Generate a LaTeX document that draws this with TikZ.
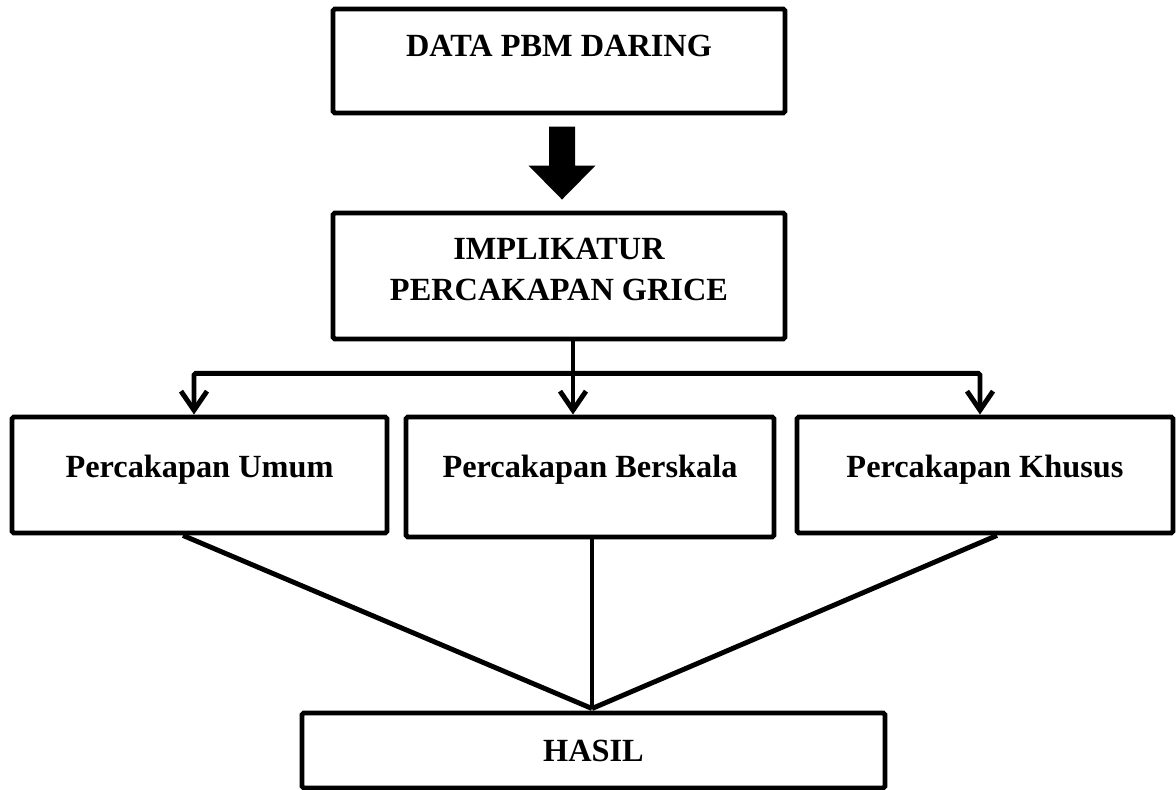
\documentclass[tikz,border=0pt]{standalone}
\usepackage{fontspec}
\setmainfont{Liberation Serif}
\usepackage{tikz}
\usetikzlibrary{arrows.meta, positioning}

\begin{document}
\begin{tikzpicture}[
  font=\fontsize{18.4}{23.3}\selectfont\bfseries,
  box/.style={
    draw=black,
    line width=2.8pt,
    rounded corners=1pt,
    inner sep=0pt
  },
  boxtext/.style={
    align=center,
    inner sep=0pt
  },
  link/.style={
    draw=black,
    line width=2.8pt,
    rounded corners=1pt
  },
  arr/.style={
    link,
    -{Straight Barb[length=0.38cm, width=0.52cm]}
  }
]

\useasboundingbox (0,0) rectangle (23.52,15.8);

% Top boxes
\node[box, minimum width=9.04cm, minimum height=2.08cm] (data) at (11.18,14.58) {};
\node[boxtext, below=0.56cm of data.north] (data-t) {DATA PBM DARING};

\node[box, minimum width=9.04cm, minimum height=2.52cm] (impl) at (11.18,10.28) {};
\node[boxtext, below=0.54cm of impl.north] (impl-t) {IMPLIKATUR\\PERCAKAPAN GRICE};

% Big arrow
\coordinate (bigtip) at ([xshift=0.06cm, yshift=0.22cm]impl.north);
\fill (bigtip) -- ++(0.67,0.68) -- ++(-0.41,0) -- ++(0,0.78)
  -- ++(-0.52,0) -- ++(0,-0.78) -- ++(-0.41,0) -- cycle;

% ---------------- Row of kinds ----------------
\node[box, minimum width=7.5cm, minimum height=2.32cm] (umum) at (3.99,6.30) {};
\node[boxtext, below=0.8cm of umum.north] (umum-t) {Percakapan Umum};

\node[box, minimum width=7.36cm, minimum height=2.4cm] (skala) at (11.80,6.26) {};
\node[boxtext, below=0.8cm of skala.north] (skala-t) {Percakapan Berskala};

\node[box, minimum width=7.52cm, minimum height=2.32cm] (khusus) at (19.70,6.30) {};
\node[boxtext, below=0.8cm of khusus.north] (khusus-t) {Percakapan Khusus};

% Result
\node[box, minimum width=11.66cm, minimum height=1.5cm] (hasil) at (11.87,0.79) {};
\node[boxtext, below=0.58cm of hasil.north] (hasil-t) {HASIL};

% Split arrows
\coordinate (stem) at ([xshift=0.28cm]impl.south);
\coordinate (split) at ([yshift=-0.64cm]stem);
\draw[arr] (stem) -- (stem |- skala.north);
\draw[arr] (split) -| ([xshift=-0.11cm]umum.north);
\draw[arr] (split) -| ([xshift=-0.1cm]khusus.north);

% Lines into result
\coordinate (meet) at ([xshift=-0.03cm, yshift=0.04cm]hasil.north);
\draw[link] ([xshift=-0.33cm]umum.south) -- (meet);
\draw[link] (meet |- skala.south) -- (meet);
\draw[link] ([xshift=0.24cm]khusus.south) -- (meet);

\end{tikzpicture}
\end{document}
